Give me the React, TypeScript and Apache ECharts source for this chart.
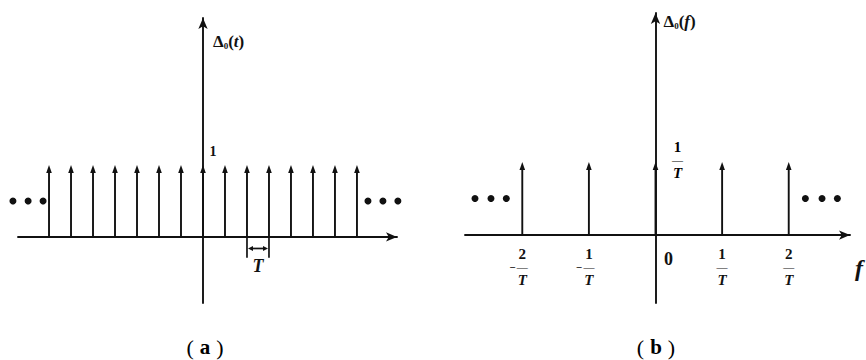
import { useEffect, useRef } from "react";
import * as echarts from "echarts";

const INK = "#111111";
const SERIF = '"Liberation Serif", "Times New Roman", serif';

// (a) periodic unit impulse train Δ0(t), shifts in multiples of T
const combShifts = [-7, -6, -5, -4, -3, -2, -1, 0, 1, 2, 3, 4, 5, 6, 7];
const combWeights = [1, 1, 1, 1, 1, 1, 1, 1, 1, 1, 1, 1, 1, 1, 1];
const combLeftDots = [-8.64, -7.95, -7.27];
const combRightDots = [7.5, 8.18, 8.86];
const combDotLevel = 0.5;
const periodSpan = [2, 3];

// (b) its spectrum Δ0(f): lines at k/T with weight 1/T
const spectrumShifts = [-2, -1, 0, 1, 2];
const spectrumWeights = [1, 1, 1, 1, 1];
const spectrumTickValues = [-2, -1, 0, 1, 2];
const spectrumLeftDots = [-2.71, -2.47, -2.24];
const spectrumRightDots = [2.25, 2.5, 2.73];
const spectrumDotLevel = 0.5;

const captions = ["a", "b"];

// vertical levels (data units) of the period bracket under the time axis
const BRACKET_LOW = -0.29;
const BRACKET_ARROW = -0.16;
const BRACKET_TEXT = -0.4;

const boldText = { fontFamily: SERIF, fontWeight: "bold" as const, color: INK };

const fractionRich = {
  n: { ...boldText, fontSize: 15, width: 12, align: "center", lineHeight: 15 },
  d: { ...boldText, fontStyle: "italic", fontSize: 15, width: 12, align: "center", lineHeight: 15 },
  // numerator / denominator of a negative fraction, padded so the bar stays on the tick
  nl: { ...boldText, fontSize: 15, width: 12, align: "center", lineHeight: 15, padding: [0, 8, 0, 8] },
  dl: { ...boldText, fontStyle: "italic", fontSize: 15, width: 12, align: "center", lineHeight: 15, padding: [0, 8, 0, 8] },
  bar: { ...boldText, fontSize: 11, width: 12, align: "center", lineHeight: 11, verticalAlign: "middle" },
  barl: { ...boldText, fontSize: 11, width: 12, align: "center", lineHeight: 11, verticalAlign: "middle", padding: [0, 8, 0, 0] },
  m: { ...boldText, fontSize: 11, width: 8, align: "center", lineHeight: 11, verticalAlign: "middle" },
  z: { ...boldText, fontSize: 18, lineHeight: 18, padding: [7, 0, 0, 26] },
};

function fractionLabel(v: number): string {
  if (v === 0) return "{z|0}";
  const num = String(Math.abs(v));
  if (v < 0) {
    return `{nl|${num}}\n{m|−}{barl|—}\n{dl|T}`;
  }
  return `{n|${num}}\n{bar|—}\n{d|T}`;
}

function impulseSeries(gridIndex: number, shifts: number[], weights: number[], peak: "one" | "frac") {
  return {
    type: "custom",
    xAxisIndex: gridIndex,
    yAxisIndex: gridIndex,
    clip: false,
    data: shifts.map((s, i) => [s, weights[i]]),
    encode: { x: 0, y: 1 },
    renderItem: (_params: any, api: any) => {
      const x = api.value(0);
      const h = api.value(1);
      const base = api.coord([x, 0]);
      const tip = api.coord([x, h]);
      const headH = 8;
      const headW = 2.8;
      const children: any[] = [
        {
          type: "line",
          shape: { x1: base[0], y1: base[1], x2: tip[0], y2: tip[1] + headH - 1 },
          style: { stroke: INK, lineWidth: 1.9 },
        },
        {
          type: "polygon",
          shape: {
            points: [
              [tip[0], tip[1]],
              [tip[0] - headW, tip[1] + headH],
              [tip[0] + headW, tip[1] + headH],
            ],
          },
          style: { fill: INK },
        },
      ];
      if (x === 0) {
        if (peak === "one") {
          children.push({
            type: "text",
            x: tip[0] + 10,
            y: tip[1] - 13,
            style: { text: "1", ...boldText, fontSize: 14, align: "center", verticalAlign: "middle", fill: INK },
          });
        } else {
          children.push({
            type: "text",
            x: tip[0] + 22,
            y: tip[1] - 2,
            style: {
              text: "{n|1}\n{bar|—}\n{d|T}",
              rich: fractionRich,
              align: "center",
              verticalAlign: "middle",
            },
          });
        }
      }
      return { type: "group", children };
    },
  };
}

function dotSeries(gridIndex: number, xs: number[], level: number) {
  return {
    type: "scatter",
    xAxisIndex: gridIndex,
    yAxisIndex: gridIndex,
    clip: false,
    symbol: "circle",
    symbolSize: 7,
    itemStyle: { color: INK, opacity: 1 },
    data: xs.map((x) => [x, level]),
  };
}

const axisLineStyle = { color: INK, width: 1.9 };

function baseAxis(gridIndex: number, min: number, max: number) {
  return {
    type: "value",
    gridIndex,
    min,
    max,
    splitLine: { show: false },
    axisTick: { show: false },
    axisLabel: { show: false },
    axisLine: {
      show: true,
      onZero: true,
      symbol: ["none", "arrow"],
      symbolSize: [7, 11],
      lineStyle: axisLineStyle,
    },
  };
}

function axisName(body: string, arg: string, gap: number, padLeft: number) {
  return {
    name: `{b|${body}}{s|0}{b|(}{i|${arg}}{b|)}`,
    nameLocation: "end",
    nameGap: gap,
    nameTextStyle: {
      align: "left",
      verticalAlign: "top",
      padding: [0, 0, 0, padLeft],
      rich: {
        b: { ...boldText, fontSize: 17, lineHeight: 18 },
        i: { ...boldText, fontStyle: "italic", fontSize: 17, lineHeight: 18 },
        s: { ...boldText, fontSize: 9, lineHeight: 18, verticalAlign: "bottom", padding: [6, 0, 0, 0] },
      },
    },
  };
}

export default function App() {
  const ref = useRef<HTMLDivElement>(null);

  useEffect(() => {
    if (!ref.current) return;
    const chart = echarts.init(ref.current, undefined, { renderer: "svg" });

    chart.setOption({
      animation: false,
      backgroundColor: "#ffffff",
      grid: [
        { left: 18, right: 469, top: 18, bottom: 57 },
        { left: 465, right: 11, top: 13, bottom: 57 },
      ],
      xAxis: [
        baseAxis(0, -8.41, 8.82),
        {
          ...baseAxis(1, -2.86, 2.92),
          axisLabel: {
            show: true,
            customValues: spectrumTickValues,
            // labels sit on the grid's bottom edge; pull them up under the zero line
            margin: -57,
            formatter: (v: number) => fractionLabel(v),
            rich: fractionRich,
          },
          name: "f",
          nameLocation: "end",
          nameGap: 5,
          nameTextStyle: {
            ...boldText,
            fontStyle: "italic",
            fontSize: 24,
            align: "left",
            verticalAlign: "top",
            padding: [21, 0, 0, 0],
          },
        },
      ],
      yAxis: [
        {
          ...baseAxis(0, -0.917, 3.04),
          ...axisName("Δ", "t", -14, 10),
        },
        {
          ...baseAxis(1, -0.93, 3.04),
          ...axisName("Δ", "f", 1, 8),
        },
      ],
      series: [
        impulseSeries(0, combShifts, combWeights, "one"),
        dotSeries(0, combLeftDots, combDotLevel),
        dotSeries(0, combRightDots, combDotLevel),
        {
          type: "custom",
          xAxisIndex: 0,
          yAxisIndex: 0,
          clip: false,
          data: [periodSpan],
          renderItem: (_params: any, api: any) => {
            const x0 = api.value(0);
            const x1 = api.value(1);
            const a = api.coord([x0, 0]);
            const b = api.coord([x1, 0]);
            const low = api.coord([x0, BRACKET_LOW])[1];
            const mid = api.coord([x0, BRACKET_ARROW])[1];
            const ty = api.coord([x0, BRACKET_TEXT])[1];
            const hl = 5;
            const hw = 2.6;
            const stroke = { stroke: INK, lineWidth: 1.7 };
            return {
              type: "group",
              children: [
                { type: "line", shape: { x1: a[0], y1: a[1], x2: a[0], y2: low }, style: stroke },
                { type: "line", shape: { x1: b[0], y1: b[1], x2: b[0], y2: low }, style: stroke },
                { type: "line", shape: { x1: a[0] + hl, y1: mid, x2: b[0] - hl, y2: mid }, style: stroke },
                {
                  type: "polygon",
                  shape: { points: [[a[0] + 1, mid], [a[0] + 1 + hl, mid - hw], [a[0] + 1 + hl, mid + hw]] },
                  style: { fill: INK },
                },
                {
                  type: "polygon",
                  shape: { points: [[b[0] - 1, mid], [b[0] - 1 - hl, mid - hw], [b[0] - 1 - hl, mid + hw]] },
                  style: { fill: INK },
                },
                {
                  type: "text",
                  x: (a[0] + b[0]) / 2,
                  y: ty,
                  style: {
                    text: "T",
                    ...boldText,
                    fontStyle: "italic",
                    fontSize: 18,
                    fill: INK,
                    align: "center",
                    verticalAlign: "middle",
                  },
                },
              ],
            };
          },
        },
        impulseSeries(1, spectrumShifts, spectrumWeights, "frac"),
        dotSeries(1, spectrumLeftDots, spectrumDotLevel),
        dotSeries(1, spectrumRightDots, spectrumDotLevel),
      ],
      graphic: captions.map((c, i) => ({
        type: "text",
        x: i === 0 ? 205 : 656,
        y: 347,
        style: {
          text: `{p|(}{l|${c}}{p|)}`,
          align: "center",
          verticalAlign: "middle",
          rich: {
            p: { fontFamily: SERIF, fontSize: 22, color: INK },
            l: { ...boldText, fontSize: 21, padding: [0, 6, 0, 6] },
          },
        },
      })),
    });

    return () => chart.dispose();
  }, []);

  return (
    <div
      ref={ref}
      style={{ position: "fixed", left: 0, top: 0, width: 866, height: 360, background: "#fff" }}
    />
  );
}
